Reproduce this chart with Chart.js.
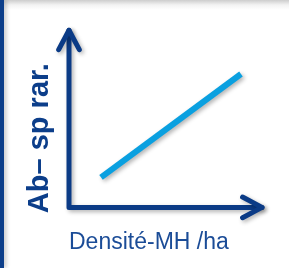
<!DOCTYPE html>
<html lang="fr">
<head>
    <meta charset="UTF-8">
    <title>Ab sp rar. vs Densité-MH</title>
    <script src="https://cdn.jsdelivr.net/npm/chart.js"></script>
    <style>
        body {
            margin: 0;
            width: 289px;
            height: 268px;
            overflow: hidden;
            background: linear-gradient(to bottom, #cdcdcd 0px, #f3f3f3 5px, #ffffff 10px);
            position: relative;
        }
        #bar {
            position: absolute;
            left: 0; top: 0;
            width: 4px; height: 268px;
            background: #0d3f8a;
            box-shadow: 2px 0 4px rgba(0,0,0,0.25);
        }
        #wrap {
            position: absolute;
            left: 0; top: 0;
            width: 289px; height: 268px;
        }
    </style>
</head>
<body>
    <div id="bar"></div>
    <div id="wrap"><canvas id="myChart"></canvas></div>
    <script>
        // trend line (arbitrary units, no ticks shown)
        const densite = [1.66, 8.91];
        const abondance = [2.17, 9.64];
        const xRange = [0, 10];
        const yRange = [0, 10];
        const yArrowTip = 12.8;   // y axis arrow goes above the plotted range

        const axisBlue = '#0b3b86';

        const arrowAxes = {
            id: 'arrowAxes',
            afterDraw(chart) {
                const ctx = chart.ctx;
                const xs = chart.scales.x, ys = chart.scales.y;
                const x0 = xs.getPixelForValue(xRange[0]);
                const x1 = xs.getPixelForValue(xRange[1]);
                const y0 = ys.getPixelForValue(yRange[0]);
                const y1 = ys.getPixelForValue(yArrowTip);
                const head = 22, ang = 28 * Math.PI / 180;
                ctx.save();
                ctx.strokeStyle = axisBlue;
                ctx.lineWidth = 5;
                ctx.lineCap = 'round';
                ctx.lineJoin = 'round';
                ctx.shadowColor = 'rgba(0,0,0,0.3)';
                ctx.shadowBlur = 4;
                ctx.shadowOffsetX = 2;
                ctx.shadowOffsetY = 2;
                ctx.beginPath();
                ctx.moveTo(x0, y1);
                ctx.lineTo(x0, y0);
                ctx.lineTo(x1, y0);
                ctx.stroke();
                // arrow heads
                ctx.beginPath();
                ctx.moveTo(x0 - head * Math.sin(ang), y1 + head * Math.cos(ang));
                ctx.lineTo(x0, y1);
                ctx.lineTo(x0 + head * Math.sin(ang), y1 + head * Math.cos(ang));
                ctx.moveTo(x1 - head * Math.cos(ang), y0 - head * Math.sin(ang));
                ctx.lineTo(x1, y0);
                ctx.lineTo(x1 - head * Math.cos(ang), y0 + head * Math.sin(ang));
                ctx.stroke();
                ctx.restore();
            },
            beforeDatasetsDraw(chart) {
                const ctx = chart.ctx;
                ctx.save();
                ctx.shadowColor = 'rgba(0,0,0,0.3)';
                ctx.shadowBlur = 4;
                ctx.shadowOffsetX = 2;
                ctx.shadowOffsetY = 2;
            },
            afterDatasetsDraw(chart) {
                chart.ctx.restore();
            }
        };

        const ctx = document.getElementById('myChart').getContext('2d');
        new Chart(ctx, {
            type: 'scatter',
            data: {
                datasets: [{
                    data: densite.map((d, i) => ({ x: d, y: abondance[i] })),
                    showLine: true,
                    borderColor: '#0aa0e0',
                    borderWidth: 6,
                    borderCapStyle: 'butt',
                    pointRadius: 0,
                    clip: false
                }]
            },
            options: {
                responsive: true,
                maintainAspectRatio: false,
                animation: false,
                layout: { padding: { top: 69, right: 27, bottom: 12, left: 4 } },
                plugins: { legend: { display: false }, tooltip: { enabled: false } },
                scales: {
                    x: {
                        type: 'linear',
                        min: xRange[0], max: xRange[1],
                        grid: { display: false, drawTicks: false },
                        border: { display: false },
                        ticks: { display: false },
                        title: {
                            display: true,
                            text: 'Densité-MH /ha',
                            align: 'start',
                            color: '#1b4c97',
                            font: { family: 'Liberation Sans', size: 23 },
                            padding: { top: 21, bottom: 0 }
                        }
                    },
                    y: {
                        min: yRange[0], max: yRange[1],
                        grid: { display: false, drawTicks: false },
                        border: { display: false },
                        ticks: { display: false },
                        title: {
                            display: true,
                            text: 'Ab– sp rar.',
                            color: '#0c3e8a',
                            font: { family: 'Liberation Sans', size: 29, weight: 'bold' },
                            padding: { top: 18.6, bottom: 11.6 }
                        }
                    }
                }
            },
            plugins: [arrowAxes]
        });
    </script>
</body>
</html>
